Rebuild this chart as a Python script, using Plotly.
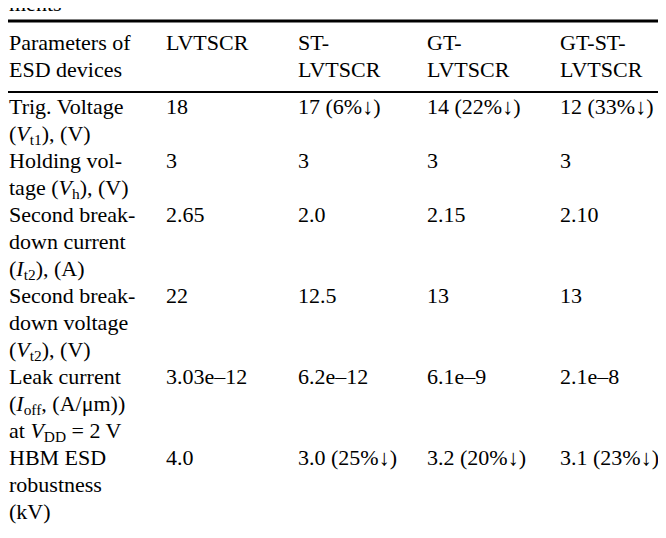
import plotly.graph_objects as go

# table content
header_param = ["Parameters of", "ESD devices"]
devices = [["LVTSCR"], ["ST-", "LVTSCR"], ["GT-", "LVTSCR"], ["GT-ST-", "LVTSCR"]]

row_labels = [
    ["Trig. Voltage", "(<i>V</i><sub>t1</sub>), (V)"],
    ["Holding vol-", "tage (<i>V</i><sub>h</sub>), (V)"],
    ["Second break-", "down current", "(<i>I</i><sub>t2</sub>), (A)"],
    ["Second break-", "down voltage", "(<i>V</i><sub>t2</sub>), (V)"],
    ["Leak current", "(<i>I</i><sub>off</sub>, (A/μm))", "at <i>V</i><sub>DD</sub> = 2 V"],
    ["HBM ESD", "robustness", "(kV)"],
]
lvtscr = ["18", "3", "2.65", "22", "3.03e–12", "4.0"]
st_lvtscr = ["17 (6%↓)", "3", "2.0", "12.5", "6.2e–12", "3.0 (25%↓)"]
gt_lvtscr = ["14 (22%↓)", "3", "2.15", "13", "6.1e–9", "3.2 (20%↓)"]
gtst_lvtscr = ["12 (33%↓)", "3", "2.10", "13", "2.1e–8", "3.1 (23%↓)"]

# layout (pixels)
W, H = 666, 538
col_x = [1, 158, 290, 419, 552]
head_y0 = 36
head_step = 27
body_y0 = 100
step = 27
font = dict(family="Liberation Serif, Times New Roman, serif", size=22, color="black")

xs, ys, txt = [], [], []

def put(x, y, s):
    xs.append(x)
    ys.append(y)
    txt.append(s)

# caption remnant at the top
put(col_x[0], -3, "ments")

# header
for i, line in enumerate(header_param):
    put(col_x[0], head_y0 + i * head_step, line)
for c, lines in enumerate(devices):
    for i, line in enumerate(lines):
        put(col_x[c + 1], head_y0 + i * head_step, line)

# body
values = [lvtscr, st_lvtscr, gt_lvtscr, gtst_lvtscr]
line_no = 0
for r, labels in enumerate(row_labels):
    y_top = body_y0 + line_no * step
    for i, line in enumerate(labels):
        put(col_x[0], y_top + i * step, line)
    for c in range(4):
        put(col_x[c + 1], y_top, values[c][r])
    line_no += len(labels)

fig = go.Figure(go.Scatter(
    x=xs, y=ys, text=txt, mode="text",
    textposition="middle right", textfont=font,
    hoverinfo="skip", cliponaxis=True,
))

# rules
fig.add_shape(type="line", xref="paper", x0=0, x1=1, y0=13, y1=13,
              line=dict(color="black", width=3))
fig.add_shape(type="line", xref="paper", x0=0, x1=1, y0=84, y1=84,
              line=dict(color="black", width=2))

fig.update_layout(
    width=W, height=H,
    margin=dict(l=0, r=0, t=0, b=0),
    paper_bgcolor="white", plot_bgcolor="white",
    showlegend=False,
    xaxis=dict(range=[0, W], visible=False, fixedrange=True),
    yaxis=dict(range=[H, 0], visible=False, fixedrange=True),
)

fig.write_html("out.html")
